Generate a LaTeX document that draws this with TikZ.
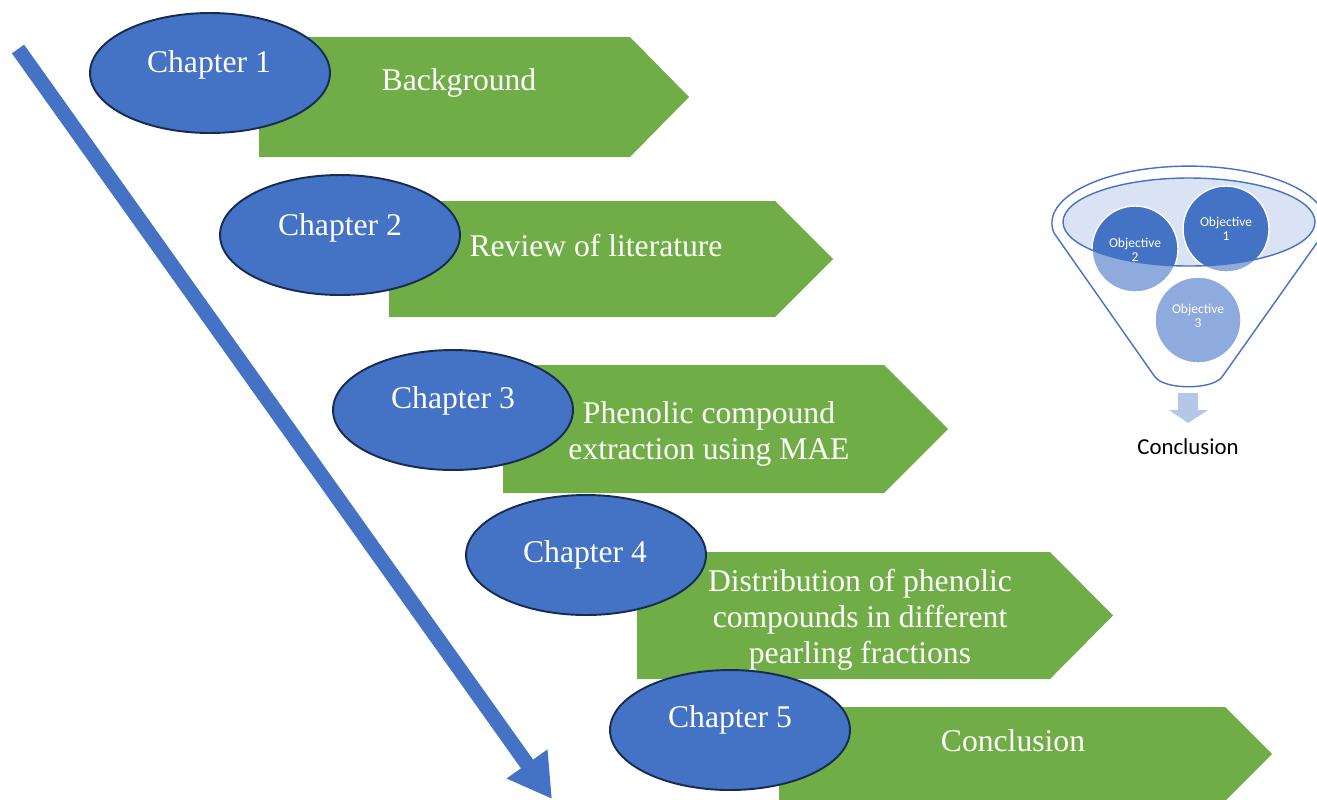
\documentclass[tikz,border=0pt]{standalone}
\usepackage{fontspec}
\setmainfont{Liberation Serif}
\newfontfamily\objfont{Carlito}
\usetikzlibrary{shapes.geometric}
\usetikzlibrary{arrows.meta}

\definecolor{chapgreen}{HTML}{70AD47}
\definecolor{chapblue}{HTML}{4472C4}
\definecolor{rimblue}{HTML}{172C51}
\definecolor{lightblue}{HTML}{8FAADC}
\definecolor{paleblue}{HTML}{DAE3F3}
\definecolor{downblue}{HTML}{B4C7E7}

\tikzset{
  chapter/.style = {ellipse, draw = rimblue, line width = 1.1pt, fill = chapblue,
    minimum width = 4.8cm, minimum height = 2.4cm},
  chaptext/.style = {text = white, font = \fontsize{18}{20.6}\selectfont, align = center},
  objective/.style = {circle, minimum size = 1.72cm, inner sep = 0pt},
  objtext/.style = {text = white, font = \objfont\fontsize{7.7}{8}\selectfont, align = center}
}

\begin{document}
\begin{tikzpicture}[x = 0.02cm, y = -0.02cm]
  \useasboundingbox (0, 0) rectangle (1317, 799);

  % time line
  \coordinate (start) at (18, 49);
  \coordinate (end) at (552, 799);
  \draw[chapblue, line width = 8.5pt, -{Triangle[length = 24.5pt, width = 26.7pt]}]
    (start) -- (end);

  % chapter banners
  \fill[chapgreen] (259, 37) -- (630, 37) -- (689, 97) -- (630, 157) -- (259, 157) -- cycle;
  \fill[chapgreen] (389, 201) -- (775, 201) -- (833, 259) -- (775, 317) -- (389, 317) -- cycle;
  \fill[chapgreen] (503, 365) -- (884, 365) -- (948, 429) -- (884, 493) -- (503, 493) -- cycle;
  \fill[chapgreen] (637, 552) -- (1050, 552) -- (1113, 615.5) -- (1050, 679) -- (637, 679) -- cycle;
  \fill[chapgreen] (779, 707) -- (1225, 707) -- (1272, 754) -- (1225, 801) -- (779, 801) -- cycle;

  \node[chaptext] (title1) at (459, 83) {Background};
  \node[chaptext] (title2) at (596, 246) {Review of literature};
  \node[chaptext] (title3) at (709, 434) {Phenolic compound\\extraction using MAE};
  \node[chaptext] (title4) at (860, 620) {Distribution of phenolic\\compounds in different\\pearling fractions};
  \node[chaptext] (title5) at (1013, 741) {Conclusion};

  \node[chapter] (ch1) at (210, 73) {};
  \node[chapter] (ch2) at (340, 235) {};
  \node[chapter] (ch3) at (453, 410) {};
  \node[chapter] (ch4) at (586, 555) {};
  \node[chapter] (ch5) at (730, 730) {};

  \node[chaptext] (ch1-text) at (209, 65) {Chapter 1};
  \node[chaptext] (ch2-text) at (340, 228) {Chapter 2};
  \node[chaptext] (ch3-text) at (453, 401) {Chapter 3};
  \node[chaptext] (ch4-text) at (585, 555) {Chapter 4};
  \node[chaptext] (ch5-text) at (730, 720) {Chapter 5};

  % funnel of objectives
  \draw[chapblue, line width = .8pt]
    (1054, 233) arc [start angle = 170, end angle = 370, x radius = 137, y radius = 57]
    -- (1222, 377) .. controls (1212, 390) and (1165, 390) .. (1155, 377) -- cycle;
  \fill[paleblue] (1189, 222) ellipse [x radius = 126, y radius = 44];

  \node[objective, fill = lightblue] (obj1) at (1226, 229) {};
  \node[objective, fill = lightblue] (obj2) at (1135, 249) {};
  \node[objective, fill = lightblue] (obj3) at (1198, 320) {};

  \begin{scope}
    \clip (1189, 222) ellipse [x radius = 126, y radius = 44];
    \fill[chapblue] (obj1) circle [radius = 43];
    \fill[chapblue] (obj2) circle [radius = 43];
  \end{scope}

  \draw[white, line width = .8pt] (obj1) circle [radius = 43];
  \draw[white, line width = .8pt] (obj2) circle [radius = 43];
  \draw[white, line width = .8pt] (obj3) circle [radius = 43];
  \draw[chapblue, line width = .8pt] (1189, 222) ellipse [x radius = 126, y radius = 44];

  \node[objtext] (obj1-text) at (obj1) {Objective\\1};
  \node[objtext] (obj2-text) at (1135, 250) {Objective\\2};
  \node[objtext] (obj3-text) at (1198, 316) {Objective\\3};

  \fill[downblue] (1178, 393) -- (1198, 393) -- (1198, 410) -- (1208, 410)
    -- (1188, 423) -- (1169, 410) -- (1178, 410) -- cycle;
  \node[font = \objfont\fontsize{13}{15}\selectfont] (concl) at (1188, 447) {Conclusion};
\end{tikzpicture}
\end{document}
